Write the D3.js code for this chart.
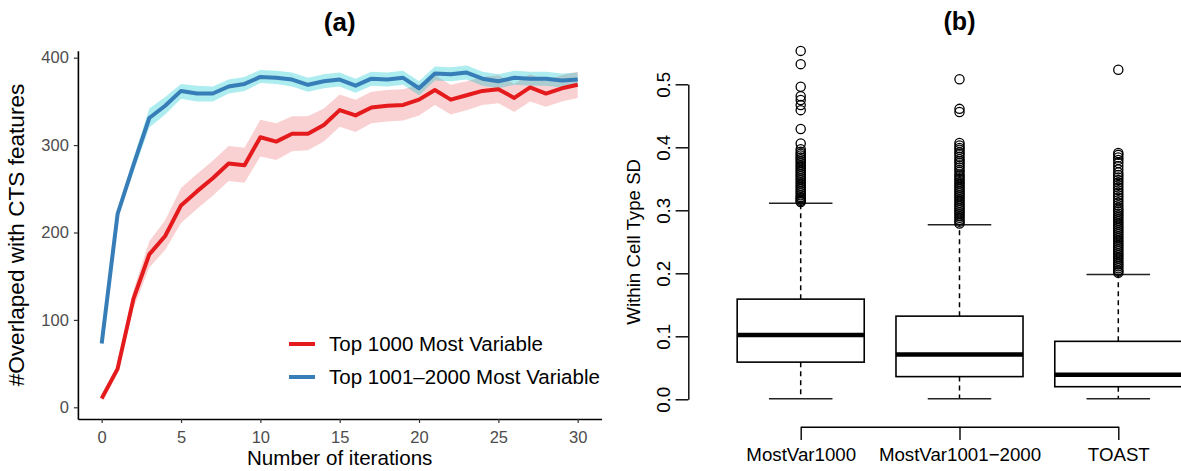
<!DOCTYPE html>
<html>
<head>
<meta charset="utf-8">
<script src="https://cdn.jsdelivr.net/npm/d3@7"></script>
<style>
  body { margin: 0; background: #fff; }
  svg { display: block; }
  text { font-family: "Liberation Sans", Arial, Helvetica, sans-serif; }
</style>
</head>
<body>
<svg id="fig" width="1181" height="471"></svg>
<script>
// ---- Panel (a): overlap with CTS features across iterations ----
const iterations = [0, 1, 2, 3, 4, 5, 6, 7, 8, 9, 10, 11, 12, 13, 14, 15,
                    16, 17, 18, 19, 20, 21, 22, 23, 24, 25, 26, 27, 28, 29, 30];

const top1000     = [10, 44, 124, 175, 196, 231, 247, 262, 279, 277, 309, 304, 313, 313, 323, 340,
                     334, 343, 345, 346, 352, 363, 352, 357, 362, 364, 354, 366, 359, 365, 369];
const top1000Lo   = [7, 39, 113, 160, 180, 211, 227, 242, 259, 257, 287, 283, 293, 294, 304, 321,
                     315, 325, 327, 328, 334, 346, 335, 340, 346, 348, 338, 350, 344, 350, 354];
const top1000Hi   = [13, 49, 134, 190, 214, 251, 267, 282, 299, 297, 329, 325, 333, 333, 342, 358,
                     352, 361, 363, 364, 369, 380, 369, 373, 378, 380, 370, 381, 374, 380, 384];

const top2000     = [73, 221, 277, 331, 345, 362, 359, 359, 367, 370, 378, 377, 375, 369, 373, 375,
                     368, 376, 375, 377, 365, 382, 381, 383, 376, 373, 377, 376, 376, 374, 375];
const top2000Lo   = [70, 218, 269, 320, 335, 353, 350, 350, 359, 362, 371, 370, 367, 361, 365, 367,
                     360, 368, 367, 369, 357, 374, 373, 375, 368, 365, 369, 368, 368, 366, 367];
const top2000Hi   = [76, 224, 285, 342, 355, 370, 368, 367, 375, 378, 386, 385, 383, 377, 381, 383,
                     376, 384, 383, 385, 373, 390, 389, 391, 384, 381, 385, 384, 384, 382, 383];

const seriesNames = ["Top 1000 Most Variable", "Top 1001\u20132000 Most Variable"];
const xTicksA = [0, 5, 10, 15, 20, 25, 30];
const yTicksA = [0, 100, 200, 300, 400];

// ---- Panel (b): within cell type SD ----
const groups   = ["MostVar1000", "MostVar1001\u22122000", "TOAST"];
const boxQ1    = [0.059, 0.036, 0.020];
const boxMed   = [0.102, 0.071, 0.039];
const boxQ3    = [0.159, 0.132, 0.092];
const whiskLo  = [0.001, 0.001, 0.001];
const whiskHi  = [0.311, 0.277, 0.198];
const outliers1 = [0.553, 0.532, 0.496, 0.481, 0.475, 0.467, 0.459, 0.429, 0.406, 0.397, 0.393,
                   0.390, 0.387, 0.384, 0.381, 0.378, 0.375, 0.372, 0.369, 0.366, 0.363, 0.360,
                   0.357, 0.354, 0.351, 0.348, 0.345, 0.342, 0.339, 0.336, 0.333, 0.330, 0.327,
                   0.324, 0.321, 0.319, 0.317, 0.315, 0.313];
const outliers2 = [0.508, 0.461, 0.456, 0.407, 0.403, 0.399, 0.396, 0.392, 0.389, 0.385, 0.381,
                   0.378, 0.375, 0.371, 0.368, 0.364, 0.361, 0.357, 0.354, 0.351, 0.348, 0.345,
                   0.342, 0.339, 0.336, 0.333, 0.330, 0.327, 0.324, 0.321, 0.318, 0.315, 0.312,
                   0.309, 0.306, 0.303, 0.300, 0.297, 0.294, 0.291, 0.288, 0.285, 0.282, 0.279];
const outliers3 = [0.523, 0.391, 0.388, 0.384, 0.380, 0.375, 0.370, 0.365, 0.360, 0.356, 0.352,
                   0.348, 0.344, 0.340, 0.336, 0.332, 0.328, 0.324, 0.320, 0.316, 0.312, 0.308,
                   0.304, 0.301, 0.298, 0.295, 0.292, 0.289, 0.286, 0.283, 0.280, 0.277, 0.274,
                   0.271, 0.268, 0.265, 0.262, 0.259, 0.256, 0.253, 0.250, 0.247, 0.244, 0.241,
                   0.238, 0.235, 0.232, 0.229, 0.226, 0.223, 0.220, 0.217, 0.214, 0.211, 0.208,
                   0.205, 0.203, 0.201];
const yTicksB = [0.0, 0.1, 0.2, 0.3, 0.4, 0.5];

const svg = d3.select("#fig");

// ================= Panel (a) =================
const xA = d3.scaleLinear().domain([-1.5, 31.5]).range([77.9, 601.5]);
const yA = d3.scaleLinear().domain([-13.4, 408]).range([419, 50.7]);
const gA = svg.append("g");

const rows = iterations.map((it, i) => ({
  it,
  r: top1000[i], rLo: top1000Lo[i], rHi: top1000Hi[i],
  b: top2000[i], bLo: top2000Lo[i], bHi: top2000Hi[i]
}));

const area = (lo, hi) => d3.area().x(d => xA(d.it)).y0(d => yA(d[lo])).y1(d => yA(d[hi]));
const line = key => d3.line().x(d => xA(d.it)).y(d => yA(d[key]));

gA.append("path").datum(rows).attr("d", area("rLo", "rHi"))
  .attr("fill", "#e41a1c").attr("fill-opacity", 0.2);
gA.append("path").datum(rows).attr("d", area("bLo", "bHi"))
  .attr("fill", "#00c5cd").attr("fill-opacity", 0.32);
gA.append("path").datum(rows).attr("d", line("b"))
  .attr("fill", "none").attr("stroke", "#377eb8").attr("stroke-width", 4).attr("stroke-linejoin", "round");
gA.append("path").datum(rows).attr("d", line("r"))
  .attr("fill", "none").attr("stroke", "#e41a1c").attr("stroke-width", 4).attr("stroke-linejoin", "round");

// axes
const axA_x = gA.append("g").attr("transform", "translate(0,419)")
  .call(d3.axisBottom(xA).tickValues(xTicksA).tickSize(4).tickSizeOuter(0).tickPadding(8));
const axA_y = gA.append("g").attr("transform", "translate(77.9,0)")
  .call(d3.axisLeft(yA).tickValues(yTicksA).tickSize(4).tickSizeOuter(0).tickPadding(5));
[axA_x, axA_y].forEach(ax => {
  ax.select(".domain").attr("stroke", "#000").attr("stroke-width", 1.6);
  ax.selectAll(".tick line").attr("stroke", "#333").attr("stroke-width", 1.2);
  ax.selectAll(".tick text").attr("fill", "#4d4d4d").attr("font-size", 16.5);
});

gA.append("text").attr("x", 339.7).attr("y", 465).attr("text-anchor", "middle")
  .attr("font-size", 20.6).attr("fill", "#000").text("Number of iterations");
gA.append("text").attr("transform", "translate(24,235) rotate(-90)").attr("text-anchor", "middle")
  .attr("font-size", 22.6).attr("fill", "#000").text("#Overlaped with CTS features");
gA.append("text").attr("x", 339.7).attr("y", 31).attr("text-anchor", "middle")
  .attr("font-size", 26).attr("font-weight", "bold").attr("fill", "#000").text("(a)");

// legend
const legColors = ["#e41a1c", "#377eb8"];
const legY = [344, 377];
seriesNames.forEach((name, i) => {
  gA.append("line").attr("x1", 289).attr("x2", 315).attr("y1", legY[i]).attr("y2", legY[i])
    .attr("stroke", legColors[i]).attr("stroke-width", 4);
  gA.append("text").attr("x", 329).attr("y", legY[i]).attr("dy", "0.36em")
    .attr("font-size", 20.5).attr("fill", "#000").text(name);
});

// ================= Panel (b) =================
const xB = d3.scalePoint().domain(groups).range([800.7, 1118.3]);
const yB = d3.scaleLinear().domain([0, 0.5]).range([399.3, 84.3]);
const boxW = xB.step() * 0.8;
const gB = svg.append("g");
const outlierSets = [outliers1, outliers2, outliers3];

groups.forEach((grp, i) => {
  const cx = xB(grp);
  // whiskers
  gB.append("line").attr("x1", cx).attr("x2", cx).attr("y1", yB(boxQ3[i])).attr("y2", yB(whiskHi[i]))
    .attr("stroke", "#000").attr("stroke-width", 1.5).attr("stroke-dasharray", "5,4");
  gB.append("line").attr("x1", cx).attr("x2", cx).attr("y1", yB(boxQ1[i])).attr("y2", yB(whiskLo[i]))
    .attr("stroke", "#000").attr("stroke-width", 1.5).attr("stroke-dasharray", "5,4");
  [whiskHi[i], whiskLo[i]].forEach(v => {
    gB.append("line").attr("x1", cx - boxW / 4).attr("x2", cx + boxW / 4)
      .attr("y1", yB(v)).attr("y2", yB(v)).attr("stroke", "#222").attr("stroke-width", 1.5);
  });
  // box
  gB.append("rect").attr("x", cx - boxW / 2).attr("width", boxW)
    .attr("y", yB(boxQ3[i])).attr("height", yB(boxQ1[i]) - yB(boxQ3[i]))
    .attr("fill", "#fff").attr("stroke", "#000").attr("stroke-width", 1.6);
  gB.append("line").attr("x1", cx - boxW / 2).attr("x2", cx + boxW / 2)
    .attr("y1", yB(boxMed[i])).attr("y2", yB(boxMed[i]))
    .attr("stroke", "#000").attr("stroke-width", 4.5);
  // outliers
  gB.selectAll(null).data(outlierSets[i]).enter().append("circle")
    .attr("cx", cx).attr("cy", d => yB(d)).attr("r", 4.6)
    .attr("fill", "none").attr("stroke", "#000").attr("stroke-width", 1.3);
});

// y axis
const axB_y = gB.append("g").attr("transform", "translate(688.3,0)")
  .call(d3.axisLeft(yB).tickValues(yTicksB).tickFormat(d3.format(".1f")).tickSize(12.7).tickSizeOuter(0));
axB_y.select(".domain").attr("stroke", "#000").attr("stroke-width", 1.4);
axB_y.selectAll(".tick line").attr("stroke", "#000").attr("stroke-width", 1.4);
axB_y.selectAll(".tick text").attr("x", null).attr("dy", null)
  .attr("transform", "translate(-18.3,0) rotate(-90)").attr("text-anchor", "middle")
  .attr("font-size", 18.7).attr("fill", "#000");

// x axis
const axB_x = gB.append("g").attr("transform", "translate(0,426.7)")
  .call(d3.axisBottom(xB).tickSize(13.3).tickSizeOuter(0).tickPadding(8.2));
axB_x.select(".domain").attr("stroke", "#000").attr("stroke-width", 1.4);
axB_x.selectAll(".tick line").attr("stroke", "#000").attr("stroke-width", 1.4);
axB_x.selectAll(".tick text").attr("font-size", 18.7).attr("fill", "#000");

gB.append("text").attr("transform", "translate(640,241.8) rotate(-90)").attr("text-anchor", "middle")
  .attr("font-size", 18.7).attr("fill", "#000").text("Within Cell Type SD");
gB.append("text").attr("x", 959.5).attr("y", 30).attr("text-anchor", "middle")
  .attr("font-size", 25).attr("font-weight", "bold").attr("fill", "#000").text("(b)");
</script>
</body>
</html>
